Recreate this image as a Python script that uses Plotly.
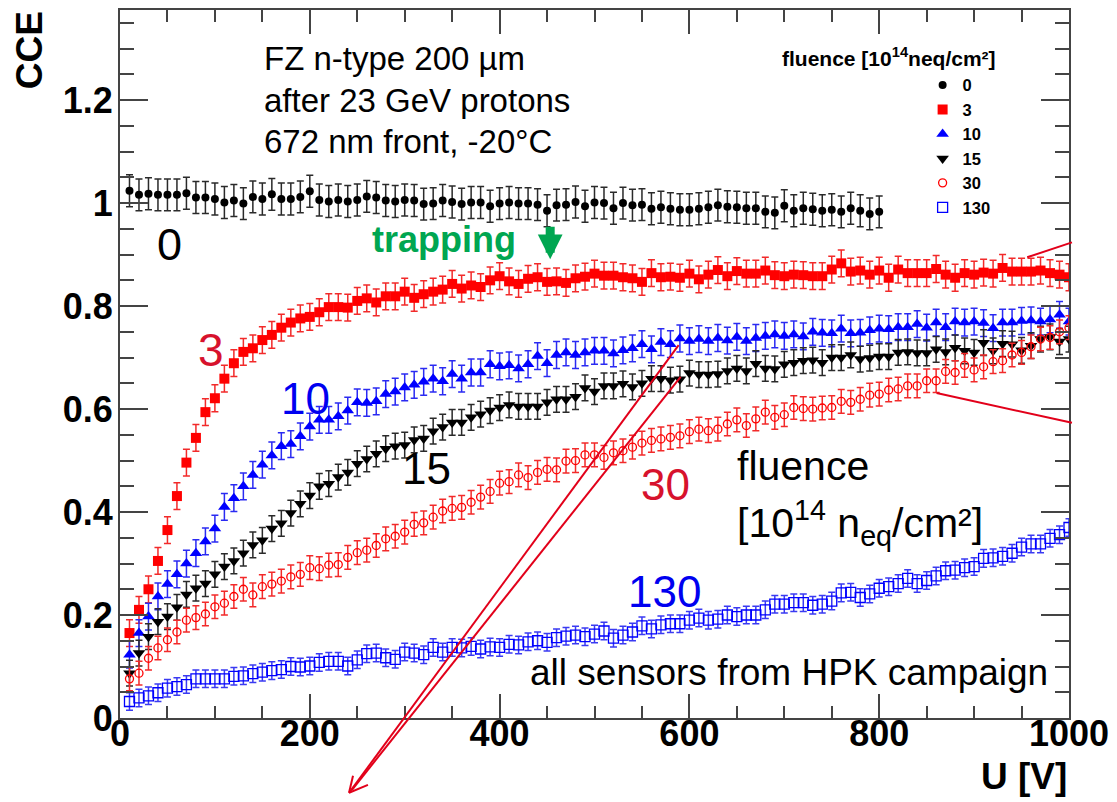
import plotly.graph_objects as go

FONT = "Liberation Sans, Arial, Helvetica, sans-serif"

# ---------------- data ----------------
U = list(range(10, 1010, 10))          # bias voltage [V], 10 V steps
U_0 = U[:80]                            # unirradiated sensor measured up to 800 V

CCE_0 = [1.024, 1.016, 1.018, 1.016, 1.016, 1.016, 1.019, 1.011, 1.011, 1.008,
         1.001, 1.005, 0.999, 1.012, 1.008, 1.017, 1.008, 1.008, 1.012, 1.023,
         1.006, 1.003, 1.006, 1.003, 1.006, 1.013, 1.011, 1.005, 1.003, 1.006,
         1.005, 0.998, 0.999, 1.005, 1.002, 0.998, 1.001, 1.001, 0.994, 0.999,
         1.001, 0.999, 0.999, 0.997, 0.985, 0.996, 0.997, 1.002, 0.994, 1.001,
         1.000, 0.990, 1.000, 0.996, 0.997, 0.989, 0.992, 0.989, 0.987, 0.987,
         0.989, 0.992, 0.996, 0.993, 0.992, 0.990, 0.990, 0.983, 0.981, 0.995,
         0.985, 0.990, 0.988, 0.985, 0.987, 0.983, 0.990, 0.985, 0.979, 0.983]

CCE_3 = [0.165, 0.210, 0.250, 0.305, 0.365, 0.431, 0.496, 0.544, 0.594, 0.621,
         0.659, 0.689, 0.711, 0.718, 0.734, 0.744, 0.758, 0.768, 0.776, 0.779,
         0.788, 0.798, 0.798, 0.797, 0.810, 0.815, 0.807, 0.819, 0.819, 0.828,
         0.816, 0.823, 0.828, 0.832, 0.843, 0.834, 0.840, 0.837, 0.850, 0.858,
         0.848, 0.843, 0.853, 0.856, 0.847, 0.848, 0.845, 0.854, 0.857, 0.863,
         0.859, 0.859, 0.856, 0.854, 0.847, 0.864, 0.856, 0.857, 0.855, 0.863,
         0.852, 0.861, 0.870, 0.858, 0.868, 0.863, 0.863, 0.869, 0.860, 0.858,
         0.861, 0.860, 0.858, 0.858, 0.871, 0.883, 0.867, 0.869, 0.861, 0.869,
         0.855, 0.871, 0.864, 0.864, 0.864, 0.872, 0.861, 0.855, 0.864, 0.861,
         0.865, 0.863, 0.874, 0.867, 0.867, 0.867, 0.869, 0.864, 0.861, 0.856]

CCE_10 = [0.123, 0.165, 0.197, 0.236, 0.260, 0.279, 0.300, 0.320, 0.343, 0.368,
          0.410, 0.427, 0.450, 0.472, 0.492, 0.510, 0.528, 0.532, 0.547, 0.566,
          0.579, 0.579, 0.586, 0.597, 0.613, 0.612, 0.615, 0.629, 0.634, 0.642,
          0.647, 0.653, 0.659, 0.654, 0.668, 0.659, 0.671, 0.671, 0.687, 0.683,
          0.685, 0.679, 0.687, 0.703, 0.689, 0.705, 0.710, 0.705, 0.710, 0.713,
          0.713, 0.708, 0.714, 0.718, 0.726, 0.716, 0.730, 0.726, 0.737, 0.732,
          0.736, 0.732, 0.738, 0.733, 0.740, 0.732, 0.738, 0.742, 0.745, 0.742,
          0.745, 0.741, 0.750, 0.748, 0.747, 0.756, 0.747, 0.748, 0.753, 0.756,
          0.755, 0.759, 0.759, 0.765, 0.758, 0.768, 0.759, 0.770, 0.768, 0.770,
          0.767, 0.757, 0.768, 0.768, 0.771, 0.772, 0.770, 0.774, 0.783, 0.770]

CCE_15 = [0.087, 0.126, 0.158, 0.187, 0.197, 0.215, 0.240, 0.252, 0.261, 0.279,
          0.294, 0.305, 0.320, 0.336, 0.345, 0.368, 0.378, 0.398, 0.416, 0.432,
          0.450, 0.455, 0.468, 0.477, 0.494, 0.503, 0.513, 0.523, 0.528, 0.530,
          0.540, 0.543, 0.557, 0.565, 0.574, 0.574, 0.584, 0.590, 0.597, 0.603,
          0.608, 0.605, 0.605, 0.605, 0.613, 0.619, 0.619, 0.624, 0.641, 0.634,
          0.645, 0.645, 0.649, 0.643, 0.650, 0.659, 0.659, 0.656, 0.658, 0.670,
          0.667, 0.667, 0.668, 0.674, 0.679, 0.674, 0.688, 0.679, 0.678, 0.687,
          0.690, 0.694, 0.695, 0.690, 0.700, 0.700, 0.705, 0.697, 0.699, 0.702,
          0.702, 0.710, 0.711, 0.709, 0.709, 0.716, 0.711, 0.719, 0.713, 0.710,
          0.729, 0.713, 0.727, 0.726, 0.714, 0.723, 0.736, 0.740, 0.731, 0.736]

CCE_30 = [0.076, 0.087, 0.116, 0.136, 0.152, 0.167, 0.190, 0.195, 0.202, 0.216,
          0.223, 0.236, 0.250, 0.239, 0.255, 0.260, 0.266, 0.274, 0.279, 0.292,
          0.290, 0.297, 0.298, 0.312, 0.321, 0.326, 0.335, 0.348, 0.353, 0.361,
          0.376, 0.379, 0.390, 0.402, 0.407, 0.409, 0.419, 0.429, 0.440, 0.456,
          0.459, 0.472, 0.467, 0.477, 0.483, 0.482, 0.499, 0.500, 0.511, 0.511,
          0.506, 0.515, 0.519, 0.526, 0.534, 0.539, 0.542, 0.545, 0.548, 0.556,
          0.561, 0.558, 0.561, 0.571, 0.579, 0.568, 0.581, 0.594, 0.584, 0.589,
          0.603, 0.601, 0.600, 0.602, 0.603, 0.615, 0.613, 0.619, 0.627, 0.629,
          0.637, 0.639, 0.645, 0.645, 0.655, 0.655, 0.673, 0.671, 0.685, 0.676,
          0.682, 0.692, 0.694, 0.705, 0.710, 0.721, 0.736, 0.739, 0.750, 0.758]

CCE_130 = [0.032, 0.039, 0.043, 0.049, 0.058, 0.061, 0.065, 0.076, 0.076, 0.076,
           0.076, 0.081, 0.082, 0.086, 0.089, 0.092, 0.094, 0.100, 0.099, 0.101,
           0.108, 0.110, 0.110, 0.101, 0.113, 0.125, 0.126, 0.117, 0.114, 0.128,
           0.126, 0.123, 0.137, 0.128, 0.137, 0.136, 0.139, 0.134, 0.138, 0.137,
           0.143, 0.142, 0.148, 0.150, 0.147, 0.156, 0.159, 0.161, 0.158, 0.163,
           0.169, 0.155, 0.161, 0.167, 0.179, 0.173, 0.181, 0.183, 0.183, 0.190,
           0.194, 0.190, 0.192, 0.200, 0.197, 0.200, 0.200, 0.210, 0.221, 0.221,
           0.224, 0.224, 0.219, 0.221, 0.227, 0.243, 0.244, 0.234, 0.241, 0.252,
           0.255, 0.261, 0.271, 0.261, 0.267, 0.276, 0.286, 0.287, 0.292, 0.294,
           0.310, 0.311, 0.314, 0.320, 0.332, 0.338, 0.338, 0.349, 0.356, 0.370]

# uncertainties (per series)
ERR_0, ERR_3, ERR_10, ERR_15, ERR_30, ERR_130 = 0.031, 0.026, 0.026, 0.025, 0.023, 0.017

LEGEND_NAMES = ["0", "3", "10", "15", "30", "130"]
X_TICKS = [0, 200, 400, 600, 800, 1000]
Y_TICKS = [0, 0.2, 0.4, 0.6, 0.8, 1.0, 1.2]
Y_TICK_TEXT = ["0", "0.2", "0.4", "0.6", "0.8", "1", "1.2"]

# ---------------- style ----------------
RED = "#ff0000"
BLUE = "#0000ff"
BLACK = "#000000"
LABEL_RED = "#d7122d"
LABEL_BLUE = "#0000f0"
GREEN = "#00a651"
LINE_RED = "#e2001a"
AXIS = "#444444"

W, H = 1117, 802
ML, MR, MT, MB = 120, 44, 8, 84


def px(x):
    return (x - ML) / (W - ML - MR)


def py(y):
    return (H - MB - y) / (H - MT - MB)


fig = go.Figure()

series = [
    (U_0, CCE_0, ERR_0, dict(symbol="circle", size=8, color=BLACK), "#2a2a2a"),
    (U, CCE_3, ERR_3, dict(symbol="square", size=10, color=RED), "#f22a2a"),
    (U, CCE_10, ERR_10, dict(symbol="triangle-up", size=11, color=BLUE), "#2a2af2"),
    (U, CCE_15, ERR_15, dict(symbol="triangle-down", size=11, color=BLACK), "#2a2a2a"),
    (U, CCE_30, ERR_30, dict(symbol="circle-open", size=8, color=RED,
                             line=dict(width=1.3, color=RED)), "#f22a2a"),
    (U, CCE_130, ERR_130, dict(symbol="square-open", size=10, color=BLUE,
                               line=dict(width=1.3, color=BLUE)), "#3a3af2"),
]

for name, (xs, ys, err, mk, ecol) in zip(LEGEND_NAMES, series):
    fig.add_trace(go.Scatter(
        x=xs, y=ys, mode="markers", name=name, marker=mk,
        error_y=dict(type="constant", value=err, color=ecol, thickness=1.5, width=3.5),
        cliponaxis=True,
    ))


def txt(text, x, y, size, color=BLACK, bold=False, xanchor="center", yanchor="middle", angle=0):
    return dict(text=text, x=px(x), y=py(y), xref="paper", yref="paper", showarrow=False,
                xanchor=xanchor, yanchor=yanchor, textangle=angle,
                font=dict(family=FONT, size=size, color=color, weight="bold" if bold else "normal"))


annotations = [
    txt("CCE", 30, 48, 37, bold=True, angle=-90),
    txt("U [V]", 1073, 777, 37, bold=True, xanchor="right"),
    txt("FZ n-type 200 µm", 263, 57, 33, xanchor="left"),
    txt("after 23 GeV protons", 263, 99, 33, xanchor="left"),
    txt("672 nm front, -20°C", 263, 140, 33, xanchor="left"),
    txt("fluence [10<sup>14</sup>neq/cm²]", 892, 55, 21, bold=True),
    txt("0", 170, 243, 45),
    txt("3", 211, 349, 46, color=LABEL_RED),
    txt("10", 306, 398, 44, color=LABEL_BLUE),
    txt("15", 428, 468, 44),
    txt("30", 668, 484, 44, color=LABEL_RED),
    txt("130", 667, 591, 44, color=LABEL_BLUE),
    txt("fluence", 738, 465, 41, xanchor="left"),
    txt("[10<sup>14</sup> n<sub>eq</sub>/cm²]", 738, 522, 41, xanchor="left"),
    txt("all sensors from HPK campaign", 530, 672, 37, xanchor="left"),
    txt("trapping", 371, 238, 36, color=GREEN, bold=True, xanchor="left"),
    # green trapping arrow
    dict(text="", x=px(552), y=py(258), xref="paper", yref="paper", showarrow=True,
         ax=0, ay=-34, arrowhead=2, arrowwidth=9, arrowsize=0.55, arrowcolor=GREEN),
]


def seg(x0, y0, x1, y1, width=2):
    return dict(type="line", xref="paper", yref="paper",
                x0=px(x0), y0=py(y0), x1=px(x1), y1=py(y1),
                line=dict(color=LINE_RED, width=width))


shapes = [
    # pointer arrow (two converging lines + open head)
    seg(681, 344, 350, 793),
    seg(683, 376, 353, 790),
    seg(350, 793, 354, 776),
    seg(350, 793, 369, 785),
    # pointers leaving the frame on the right
    seg(1031, 256, 1076, 241),
    seg(940, 392, 1076, 422),
]

axis_common = dict(
    showline=True, linecolor=AXIS, linewidth=2, mirror="ticks",
    ticks="inside", tickcolor=AXIS, tickwidth=1.5,
    showgrid=False, zeroline=False,
    tickfont=dict(family=FONT, size=36, color=BLACK, weight="bold"),
)

fig.update_layout(
    width=W, height=H, autosize=False,
    margin=dict(l=ML, r=MR, t=MT, b=MB, pad=0),
    paper_bgcolor="white", plot_bgcolor="white",
    xaxis=dict(range=[0, 1000], tickvals=X_TICKS, ticklen=24, ticklabelstandoff=-17,
               minor=dict(dtick=50, tick0=0, ticks="inside", ticklen=12, tickcolor=AXIS, tickwidth=1.5),
               **axis_common),
    yaxis=dict(range=[0, 1.375], tickvals=Y_TICKS, ticktext=Y_TICK_TEXT, ticklen=28,
               ticklabelstandoff=-2,
               minor=dict(dtick=0.05, tick0=0, ticks="inside", ticklen=14, tickcolor=AXIS, tickwidth=1.5),
               **axis_common),
    showlegend=True,
    legend=dict(x=px(926), y=py(66), xanchor="left", yanchor="top",
                bgcolor="rgba(0,0,0,0)", itemwidth=30, tracegroupgap=0,
                font=dict(family=FONT, size=16.5, color=BLACK, weight="bold")),
    annotations=annotations,
    shapes=shapes,
)

fig.write_html("out.html", config={"displayModeBar": False},
               post_script="document.body.style.margin='0';")
